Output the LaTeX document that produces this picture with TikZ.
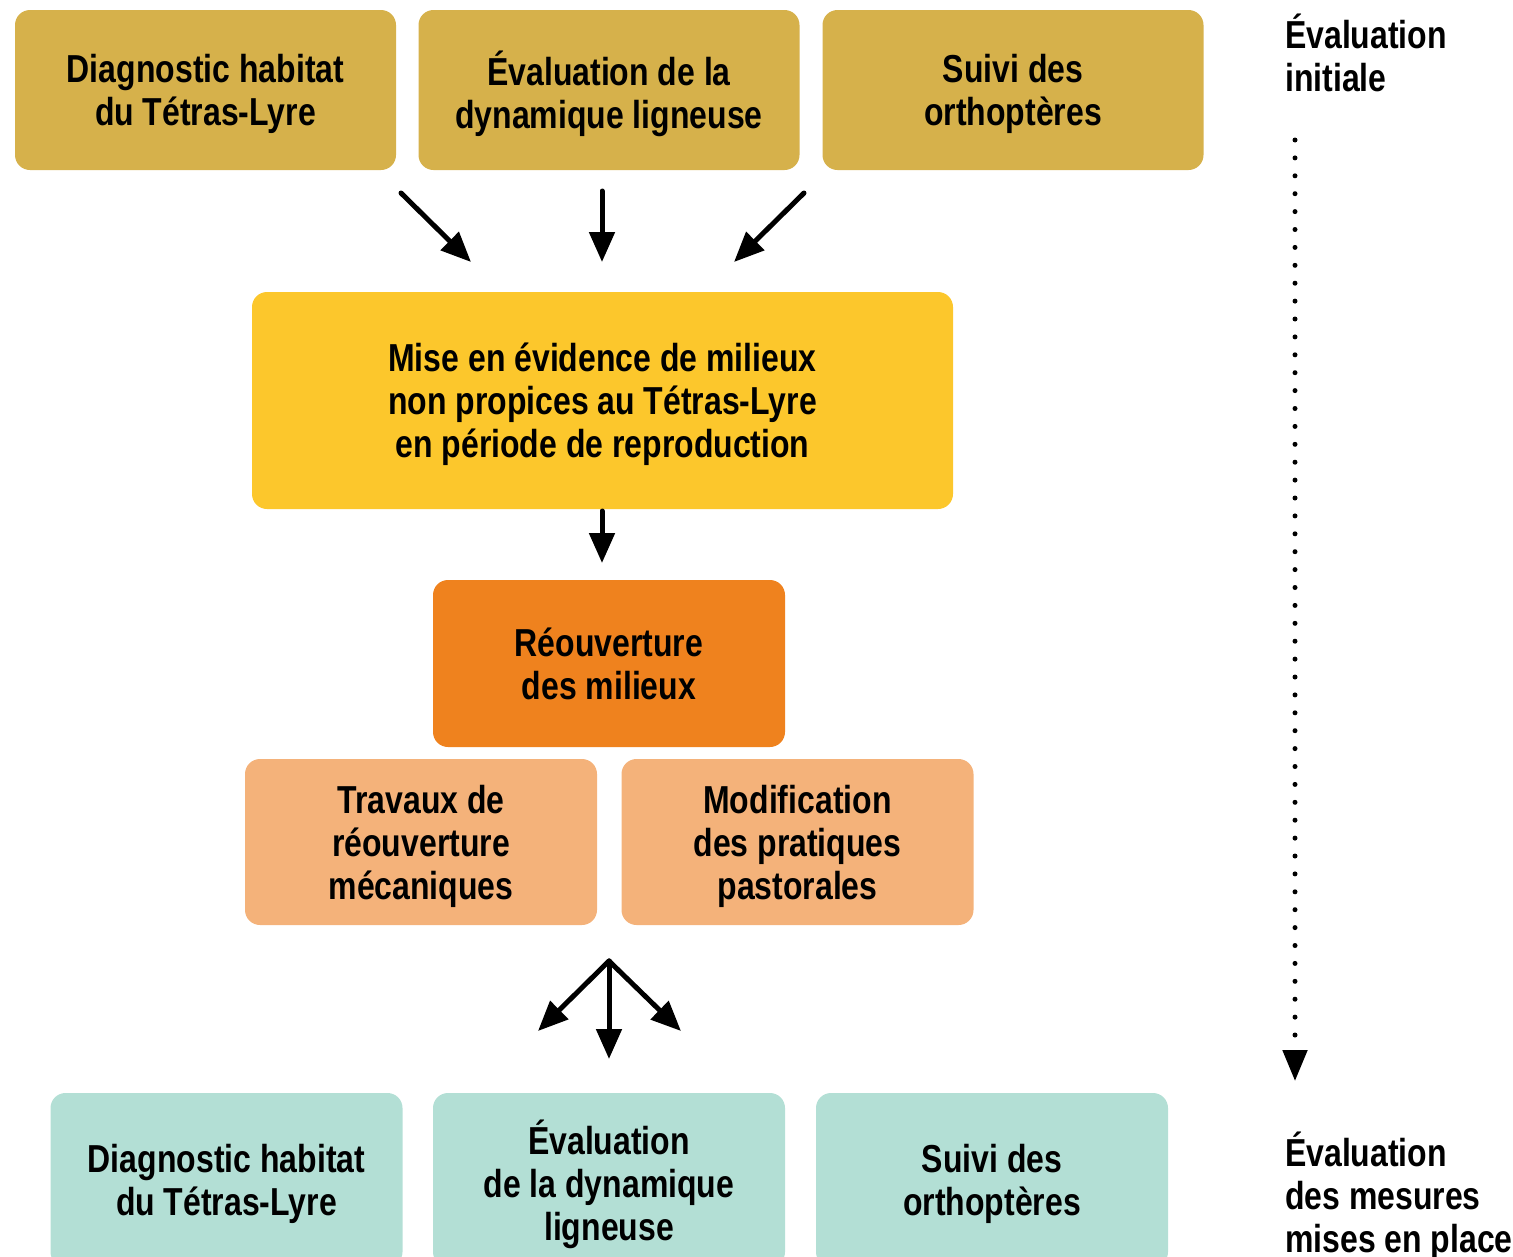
\documentclass[tikz,border=0pt]{standalone}
\usepackage{fontspec}
\setmainfont{Liberation Sans}[FakeStretch=0.82]
\usetikzlibrary{arrows.meta}
\definecolor{gold}{HTML}{D6B14B}
\definecolor{sun}{HTML}{FCC72C}
\definecolor{tangerine}{HTML}{EF821E}
\definecolor{peach}{HTML}{F4B27A}
\definecolor{mint}{HTML}{B3DFD5}
\begin{document}
\begin{tikzpicture}[x=1pt,y=-1pt,
  box/.style={rounded corners=15pt, inner sep=0pt, align=center, text depth=0pt,
    font=\fontsize{39}{43}\selectfont\bfseries},
  goldbox/.style={box, fill=gold, minimum width=381pt, minimum height=160pt},
  peachbox/.style={box, fill=peach, minimum width=352pt, minimum height=166pt},
  mintbox/.style={box, fill=mint, minimum width=352pt, minimum height=174pt},
  flow/.style={line width=5pt, line cap=round, -{Triangle[length=30pt,width=25pt]}},
  side/.style={anchor=north west, align=left, inner sep=0pt,
    font=\fontsize{39}{43}\selectfont\bfseries}]
\useasboundingbox (0,0) rectangle (1513,1256);

% first assessment
\node[goldbox] (g1) at (205.5,90) {Diagnostic habitat\\du Tétras-Lyre};
\node[goldbox] (g2) at (609,90) {Évaluation de la\\dynamique ligneuse};
\node[goldbox] (g3) at (1013,90) {Suivi des\\orthoptères};

% diagnosis
\node[box, fill=sun, minimum width=701pt, minimum height=217pt] (y)
  at (602.5,400.5) {Mise en évidence de milieux\\non propices au Tétras-Lyre\\en période de reproduction};

% action
\node[box, fill=tangerine, minimum width=352pt, minimum height=167pt] (o)
  at (609,663.5) {Réouverture\\des milieux};
\node[peachbox] (p1) at (421,842) {Travaux de\\réouverture\\mécaniques};
\node[peachbox] (p2) at (797.5,842) {Modification\\des pratiques\\pastorales};

% follow-up assessment
\node[mintbox] (m1) at (226.5,1180) {Diagnostic habitat\\du Tétras-Lyre};
\node[mintbox] (m2) at (609,1180) {Évaluation\\de la dynamique\\ligneuse};
\node[mintbox] (m3) at (992,1180) {Suivi des\\orthoptères};

% arrows between stages
\coordinate (a1s) at (401,193); \coordinate (a1e) at (471,262);
\coordinate (a2s) at (602,191); \coordinate (a2e) at (602,262);
\coordinate (a3s) at (804,193); \coordinate (a3e) at (734,262);
\draw[flow] (a1s) -- (a1e);
\draw[flow] (a2s) -- (a2e);
\draw[flow] (a3s) -- (a3e);

\coordinate (b1s) at (602,511); \coordinate (b1e) at (602,563);
\draw[flow] (b1s) -- (b1e);

\coordinate (fan) at (609,961);
\coordinate (c1) at (538,1031);
\coordinate (c2) at (609,1059);
\coordinate (c3) at (681,1031);
\draw[flow] (fan) -- (c1);
\draw[flow] (fan) -- (c2);
\draw[flow] (fan) -- (c3);

% time axis
\node[side] (t1) at (1285,14) {Évaluation\\initiale};
\node[side] (t2) at (1285,1132) {Évaluation\\des mesures\\mises en place};
\coordinate (d1) at (1295,140);
\coordinate (d2) at (1295,1081);
\draw[line width=5pt, line cap=round, dash pattern=on 0pt off 17.9pt,
  -{Triangle[length=31pt,width=24pt]}] (d1) -- (d2);
\end{tikzpicture}
\end{document}
